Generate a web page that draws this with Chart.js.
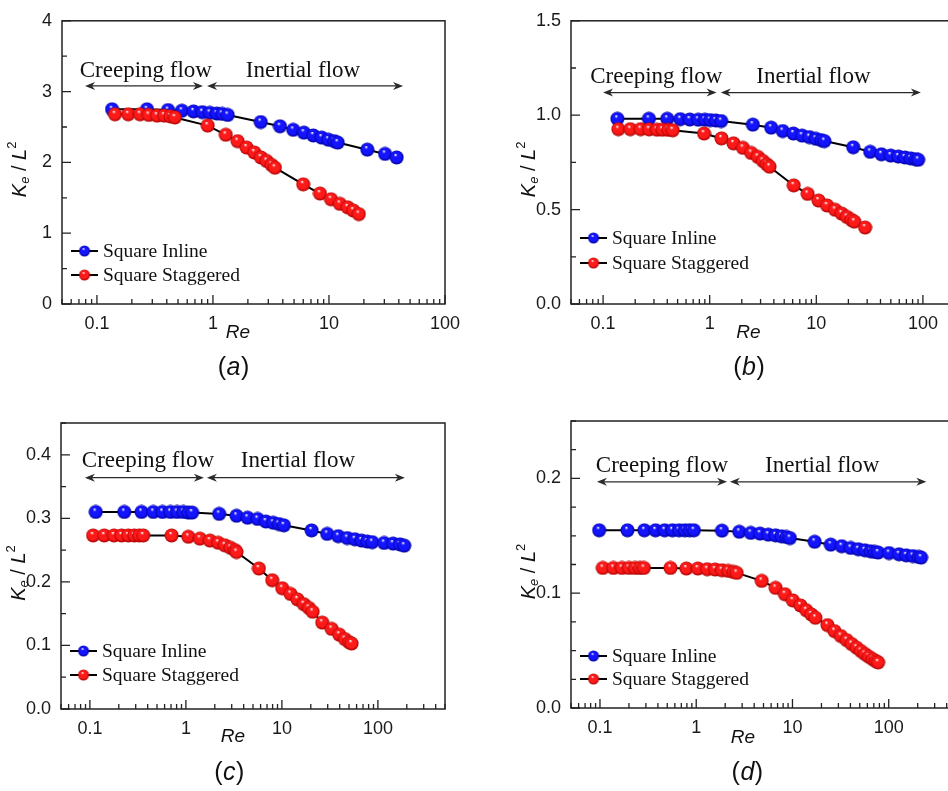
<!DOCTYPE html>
<html>
<head>
<meta charset="utf-8">
<script src="https://cdn.jsdelivr.net/npm/chart.js@4.4.0/dist/chart.umd.min.js"></script>
<style>
html, body { margin: 0; padding: 0; background: #fff; overflow: hidden; width: 948px; height: 791px; }
canvas { position: absolute; }
</style>
</head>
<body>
<canvas id="chartA" width="474" height="395" style="left:0;top:0"></canvas>
<canvas id="chartB" width="500" height="395" style="left:474px;top:0"></canvas>
<canvas id="chartC" width="474" height="396" style="left:0;top:395px"></canvas>
<canvas id="chartD" width="500" height="396" style="left:474px;top:395px"></canvas>
<script>
//-- Values (Re, Ke/L^2)
const seriesNames = ['Square Inline', 'Square Staggered'];
const xTickLabels = [0.1, 1, 10, 100];

// (a)
const aInlineRe = [0.135, 0.27, 0.41, 0.54, 0.68, 0.81, 0.94, 1.08, 1.2, 1.34, 2.58, 3.78, 4.92, 6.08, 7.32, 8.65, 9.87, 11.1, 11.9, 21.4, 30.4, 38.3];
const aInlineK = [2.75, 2.75, 2.74, 2.73, 2.72, 2.71, 2.70, 2.69, 2.685, 2.67, 2.57, 2.51, 2.46, 2.42, 2.38, 2.35, 2.32, 2.30, 2.28, 2.18, 2.12, 2.07];
const aStagRe = [0.143, 0.186, 0.235, 0.28, 0.33, 0.38, 0.43, 0.47, 0.90, 1.29, 1.63, 1.95, 2.27, 2.59, 2.90, 3.2, 3.42, 6.0, 8.36, 10.4, 12.4, 14.5, 16.2, 18.1];
const aStagK = [2.68, 2.68, 2.68, 2.67, 2.66, 2.66, 2.65, 2.635, 2.52, 2.39, 2.30, 2.21, 2.14, 2.07, 2.02, 1.965, 1.925, 1.69, 1.56, 1.48, 1.415, 1.365, 1.32, 1.27];
const aYLabels = [0, 1, 2, 3, 4];

// (b)
const bInlineRe = [0.136, 0.269, 0.40, 0.53, 0.65, 0.78, 0.90, 1.01, 1.14, 1.28, 2.54, 3.77, 4.84, 6.1, 7.35, 8.6, 9.9, 11.1, 11.9, 22.2, 32, 40.8, 49.9, 58.8, 67.9, 76.7, 85.4, 90.3];
const bInlineK = [0.981, 0.981, 0.981, 0.979, 0.977, 0.976, 0.976, 0.974, 0.972, 0.969, 0.95, 0.934, 0.916, 0.903, 0.892, 0.884, 0.875, 0.868, 0.863, 0.830, 0.806, 0.793, 0.786, 0.781, 0.776, 0.771, 0.767, 0.764];
const bStagRe = [0.139, 0.18, 0.225, 0.27, 0.32, 0.36, 0.41, 0.45, 0.885, 1.29, 1.67, 2.05, 2.45, 2.83, 3.15, 3.43, 3.64, 6.14, 8.3, 10.5, 12.6, 15, 17.3, 19.4, 21.4, 22.7, 28.7];
const bStagK = [0.926, 0.926, 0.926, 0.925, 0.923, 0.923, 0.922, 0.92, 0.903, 0.877, 0.851, 0.827, 0.80, 0.779, 0.758, 0.74, 0.727, 0.628, 0.583, 0.548, 0.522, 0.499, 0.479, 0.461, 0.445, 0.436, 0.405];
const bYLabels = [0, 0.5, 1.0, 1.5];

// (c)
const cInlineRe = [0.115, 0.228, 0.345, 0.457, 0.57, 0.69, 0.81, 0.94, 1.06, 1.16, 2.22, 3.37, 4.39, 5.58, 6.81, 8.12, 9.3, 10.5, 20.4, 29.6, 38.6, 47.9, 57.6, 67.6, 77.4, 87.3, 116, 144, 170, 188];
const cInlineK = [0.310, 0.310, 0.310, 0.310, 0.310, 0.310, 0.310, 0.310, 0.309, 0.309, 0.307, 0.304, 0.301, 0.299, 0.295, 0.293, 0.291, 0.289, 0.281, 0.2755, 0.272, 0.269, 0.267, 0.265, 0.2635, 0.2625, 0.2612, 0.2603, 0.259, 0.257];
const cStagRe = [0.108, 0.141, 0.178, 0.214, 0.251, 0.29, 0.327, 0.359, 0.71, 1.06, 1.4, 1.78, 2.17, 2.55, 2.92, 3.24, 3.37, 5.76, 7.93, 10.07, 12.3, 14.5, 16.9, 19.1, 20.9, 26.3, 33, 39.6, 45.3, 50.2, 53.2];
const cStagK = [0.273, 0.273, 0.273, 0.273, 0.273, 0.273, 0.273, 0.273, 0.273, 0.271, 0.268, 0.265, 0.2615, 0.2575, 0.2536, 0.25, 0.247, 0.221, 0.2026, 0.190, 0.181, 0.1725, 0.165, 0.159, 0.153, 0.136, 0.126, 0.117, 0.110, 0.105, 0.103];
const cYLabels = [0, 0.1, 0.2, 0.3, 0.4];

// (d)
const dInlineRe = [0.098, 0.193, 0.289, 0.378, 0.47, 0.566, 0.663, 0.76, 0.853, 0.946, 1.85, 2.8, 3.69, 4.6, 5.6, 6.68, 7.7, 8.68, 9.4, 17, 25, 32.5, 40.3, 48.3, 56.6, 64.8, 71.7, 77.6, 100.7, 128, 152, 178, 205, 217];
const dInlineK = [0.1548, 0.1548, 0.1548, 0.1548, 0.1548, 0.1548, 0.1548, 0.1548, 0.1548, 0.1548, 0.1545, 0.1535, 0.1525, 0.1519, 0.151, 0.1504, 0.1496, 0.149, 0.148, 0.1448, 0.1423, 0.1409, 0.1394, 0.1383, 0.1374, 0.1365, 0.1359, 0.1354, 0.135, 0.1339, 0.133, 0.1324, 0.1316, 0.131];
const dStagRe = [0.107, 0.138, 0.169, 0.2, 0.231, 0.26, 0.286, 0.54, 0.79, 1.04, 1.3, 1.57, 1.85, 2.15, 2.43, 2.63, 4.79, 6.68, 8.34, 10.07, 12.1, 13.9, 15.7, 17.3, 23.1, 27.3, 31.8, 36.6, 41.2, 46.4, 51.4, 56.6, 62.2, 67.9, 73.5, 77.6];
const dStagK = [0.122, 0.122, 0.122, 0.122, 0.122, 0.122, 0.122, 0.122, 0.1215, 0.1215, 0.1209, 0.1206, 0.12, 0.1194, 0.1185, 0.1177, 0.1107, 0.1046, 0.0991, 0.0937, 0.0893, 0.0852, 0.0815, 0.0786, 0.0722, 0.0670, 0.0627, 0.0591, 0.0557, 0.0525, 0.0496, 0.047, 0.0446, 0.0426, 0.0409, 0.0397];
const dYLabels = [0, 0.1, 0.2];

//-- Shaded ball markers
var makeSphere = function(base, dark, r) {
    let s = Math.ceil(2 * r) + 1;
    let c = document.createElement('canvas');
    c.width = s;
    c.height = s;
    let g = c.getContext('2d');
    let grad = g.createRadialGradient(s / 2 - r * 0.18, s / 2 - r * 0.4, 0.3, s / 2, s / 2, r);
    grad.addColorStop(0, '#ffffff');
    grad.addColorStop(0.22, base);
    grad.addColorStop(0.7, base);
    grad.addColorStop(1, dark);
    g.fillStyle = grad;
    g.beginPath();
    g.arc(s / 2, s / 2, r, 0, Math.PI * 2);
    g.fill();
    return c;
};
const blueBall = makeSphere('#1414ff', '#00009a', 7);
const redBall = makeSphere('#ff1a1a', '#a80000', 7);
const blueKey = makeSphere('#1414ff', '#00009a', 5.5);
const redKey = makeSphere('#ff1a1a', '#a80000', 5.5);

var zip = function(xs, ys) {
    let out = [];
    for (let i = 0; i < xs.length; i++) out.push({ x: xs[i], y: ys[i] });
    return out;
};

var arrowHead = function(ctx, x, y, dir) {
    ctx.beginPath();
    ctx.moveTo(x, y);
    ctx.lineTo(x - dir * 10, y - 4);
    ctx.lineTo(x - dir * 7, y);
    ctx.lineTo(x - dir * 10, y + 4);
    ctx.closePath();
    ctx.fill();
};

// minor/major tick values for the log axis
var logTicks = function(min, max) {
    let major = [], minor = [];
    for (let e = -2; e <= 3; e++) {
        for (let m = 1; m <= 9; m++) {
            let v = m * Math.pow(10, e);
            if (v < min * 0.999 || v > max * 1.001) continue;
            if (m === 1) major.push(v); else minor.push(v);
        }
    }
    return { major: major, minor: minor };
};

var decoPlugin = function(p) {
    return {
        id: 'deco' + p.tag,
        beforeDatasetsDraw: function(chart) {
            let ctx = chart.ctx, a = chart.chartArea;
            let xs = chart.scales.x, ys = chart.scales.y;
            ctx.save();
            ctx.strokeStyle = '#222';
            ctx.lineWidth = 1.5;
            ctx.strokeRect(a.left, a.top, a.right - a.left, a.bottom - a.top);
            // inward ticks
            let lt = logTicks(p.xMin, p.xMax);
            ctx.lineWidth = 1.3;
            ctx.beginPath();
            lt.major.forEach(v => { let px = xs.getPixelForValue(v); ctx.moveTo(px, a.bottom); ctx.lineTo(px, a.bottom - 9); });
            lt.minor.forEach(v => { let px = xs.getPixelForValue(v); ctx.moveTo(px, a.bottom); ctx.lineTo(px, a.bottom - 5); });
            for (let v = 0; v <= p.yMax + 1e-9; v += p.yMinorStep) {
                let py = ys.getPixelForValue(v);
                let isMajor = Math.abs(v / p.yMajorStep - Math.round(v / p.yMajorStep)) < 1e-6;
                ctx.moveTo(a.left, py);
                ctx.lineTo(a.left + (isMajor ? 9 : 5), py);
            }
            ctx.stroke();

            // flow regime arrows
            ctx.strokeStyle = '#2a2a2a';
            ctx.fillStyle = '#2a2a2a';
            ctx.lineWidth = 1.3;
            p.arrows.forEach(ar => {
                let x1 = xs.getPixelForValue(ar[0]), x2 = xs.getPixelForValue(ar[1]), y = ys.getPixelForValue(p.arrowY);
                ctx.beginPath();
                ctx.moveTo(x1 + 3, y);
                ctx.lineTo(x2 - 3, y);
                ctx.stroke();
                arrowHead(ctx, x1, y, -1);
                arrowHead(ctx, x2, y, 1);
            });
            ctx.fillStyle = '#111';
            ctx.font = '23px "Liberation Serif", "Times New Roman", serif';
            ctx.textAlign = 'center';
            ctx.textBaseline = 'middle';
            p.regimeText.forEach((t, i) => {
                ctx.fillText(t, xs.getPixelForValue(p.regimeX[i]), ys.getPixelForValue(p.regimeY));
            });

            // legend
            ctx.font = '19.5px "Liberation Serif", "Times New Roman", serif';
            ctx.textAlign = 'left';
            [blueKey, redKey].forEach((ball, i) => {
                let y = a.bottom + p.legendY[i];
                ctx.strokeStyle = '#000';
                ctx.lineWidth = 2;
                ctx.beginPath();
                ctx.moveTo(a.left + 9, y);
                ctx.lineTo(a.left + 36, y);
                ctx.stroke();
                ctx.drawImage(ball, a.left + 22.5 - ball.width / 2, y - ball.height / 2);
                ctx.fillStyle = '#111';
                ctx.fillText(seriesNames[i], a.left + 41, y + 1);
            });

            // axis titles
            ctx.textAlign = 'center';
            ctx.font = 'italic 19px "Liberation Sans", Arial, sans-serif';
            ctx.fillText('Re', xs.getPixelForValue(p.reX), a.bottom + p.reDy);
            let lx = xs.getPixelForValue(p.letterX), ly = a.bottom + p.letterDy;
            ctx.font = '25px "Liberation Sans", Arial, sans-serif';
            let wL = ctx.measureText('(').width;
            ctx.font = 'italic 25px "Liberation Sans", Arial, sans-serif';
            let wM = ctx.measureText(p.tag).width;
            let start = lx - (2 * wL + wM) / 2;
            ctx.textAlign = 'left';
            ctx.font = '25px "Liberation Sans", Arial, sans-serif';
            ctx.fillText('(', start, ly);
            ctx.fillText(')', start + wL + wM + 1, ly);
            ctx.font = 'italic 25px "Liberation Sans", Arial, sans-serif';
            ctx.fillText(p.tag, start + wL + 0.5, ly);

            // y title  K_e / L^2
            ctx.translate(a.left - 42, (a.top + a.bottom) / 2 + 7);
            ctx.rotate(-Math.PI / 2);
            let parts = [
                { t: 'K', f: 'italic 20px', dy: 0 },
                { t: 'e', f: 'italic 13px', dy: 5 },
                { t: ' / ', f: '20px', dy: 0 },
                { t: 'L', f: 'italic 20px', dy: 0 },
                { t: '2', f: '13px', dy: -8 }
            ];
            let total = 0;
            parts.forEach(q => { ctx.font = q.f + ' "Liberation Sans", Arial, sans-serif'; q.w = ctx.measureText(q.t).width; total += q.w; });
            let cx = -total / 2;
            parts.forEach(q => {
                ctx.font = q.f + ' "Liberation Sans", Arial, sans-serif';
                ctx.fillText(q.t, cx, q.dy);
                cx += q.w;
            });
            ctx.restore();
        }
    };
};

var makePanel = function(id, p) {
    let tickFont = { family: '"Liberation Sans", Arial, sans-serif', size: 18 };
    return new Chart(document.getElementById(id), {
        type: 'line',
        data: {
            datasets: [{
                label: seriesNames[0],
                data: zip(p.inRe, p.inK),
                borderColor: '#000',
                borderWidth: 2,
                pointStyle: blueBall,
                tension: 0,
                order: 1
            }, {
                label: seriesNames[1],
                data: zip(p.stRe, p.stK),
                borderColor: '#000',
                borderWidth: 2,
                pointStyle: redBall,
                tension: 0,
                order: 0
            }]
        },
        options: {
            responsive: false,
            animation: false,
            events: [],
            layout: { padding: { top: p.padTop, right: p.padRight, left: 0, bottom: 0 } },
            plugins: { legend: { display: false }, tooltip: { enabled: false } },
            scales: {
                x: {
                    type: 'logarithmic',
                    min: p.xMin,
                    max: p.xMax,
                    grid: { display: false, drawTicks: false },
                    border: { display: false },
                    afterBuildTicks: s => { s.ticks = xTickLabels.filter(v => v <= p.xMax).map(v => ({ value: v })); },
                    afterFit: s => { s.height = p.xAxisH; },
                    ticks: { autoSkip: false, maxRotation: 0, padding: 9, color: '#1a1a1a', font: tickFont, callback: v => String(v) }
                },
                y: {
                    type: 'linear',
                    min: 0,
                    max: p.yMax,
                    grid: { display: false, drawTicks: false },
                    border: { display: false },
                    afterBuildTicks: s => { s.ticks = p.yLabels.map(v => ({ value: v })); },
                    afterFit: s => { s.width = p.yAxisW; },
                    ticks: { autoSkip: false, padding: 10, color: '#1a1a1a', font: tickFont, callback: v => v.toFixed(p.yDec) }
                }
            }
        },
        plugins: [decoPlugin(p)]
    });
};

makePanel('chartA', {
    tag: 'a', inRe: aInlineRe, inK: aInlineK, stRe: aStagRe, stK: aStagK,
    xMin: 0.05, xMax: 100, yMax: 4, yLabels: aYLabels, yDec: 0, yMajorStep: 1, yMinorStep: 0.5,
    yAxisW: 62, xAxisH: 91, padTop: 16, padRight: 29,
    arrows: [[0.079, 0.82], [0.89, 43.5]], arrowY: 3.08,
    regimeText: ['Creeping flow', 'Inertial flow'], regimeX: [0.264, 5.97], regimeY: 3.29,
    legendY: [-53, -29], reX: 1.64, reDy: 29, letterX: 1.49, letterDy: 64
});

makePanel('chartB', {
    tag: 'b', inRe: bInlineRe, inK: bInlineK, stRe: bStagRe, stK: bStagK,
    xMin: 0.05, xMax: 200, yMax: 1.5, yLabels: bYLabels, yDec: 1, yMajorStep: 0.5, yMinorStep: 0.25,
    yAxisW: 97, xAxisH: 91, padTop: 16, padRight: 19,
    arrows: [[0.1, 1.16], [1.27, 95.7]], arrowY: 1.12,
    regimeText: ['Creeping flow', 'Inertial flow'], regimeX: [0.316, 9.4], regimeY: 1.2,
    legendY: [-66, -41], reX: 2.31, reDy: 29, letterX: 2.31, letterDy: 64
});

makePanel('chartC', {
    tag: 'c', inRe: cInlineRe, inK: cInlineK, stRe: cStagRe, stK: cStagK,
    xMin: 0.05, xMax: 500, yMax: 0.45, yLabels: cYLabels, yDec: 1, yMajorStep: 0.1, yMinorStep: 0.05,
    yAxisW: 61, xAxisH: 82, padTop: 28, padRight: 29,
    arrows: [[0.0887, 1.54], [1.655, 191]], arrowY: 0.364,
    regimeText: ['Creeping flow', 'Inertial flow'], regimeX: [0.402, 14.7], regimeY: 0.39,
    legendY: [-58, -34], reX: 3.09, reDy: 28, letterX: 2.8, letterDy: 64
});

makePanel('chartD', {
    tag: 'd', inRe: dInlineRe, inK: dInlineK, stRe: dStagRe, stK: dStagK,
    xMin: 0.05, xMax: 500, yMax: 0.25, yLabels: dYLabels, yDec: 1, yMajorStep: 0.1, yMinorStep: 0.025,
    yAxisW: 97, xAxisH: 83, padTop: 26, padRight: 18,
    arrows: [[0.093, 2.09], [2.24, 246]], arrowY: 0.197,
    regimeText: ['Creeping flow', 'Inertial flow'], regimeX: [0.44, 20.4], regimeY: 0.211,
    legendY: [-52, -29], reX: 3.05, reDy: 30, letterX: 3.36, letterDy: 65
});
</script>
</body>
</html>
